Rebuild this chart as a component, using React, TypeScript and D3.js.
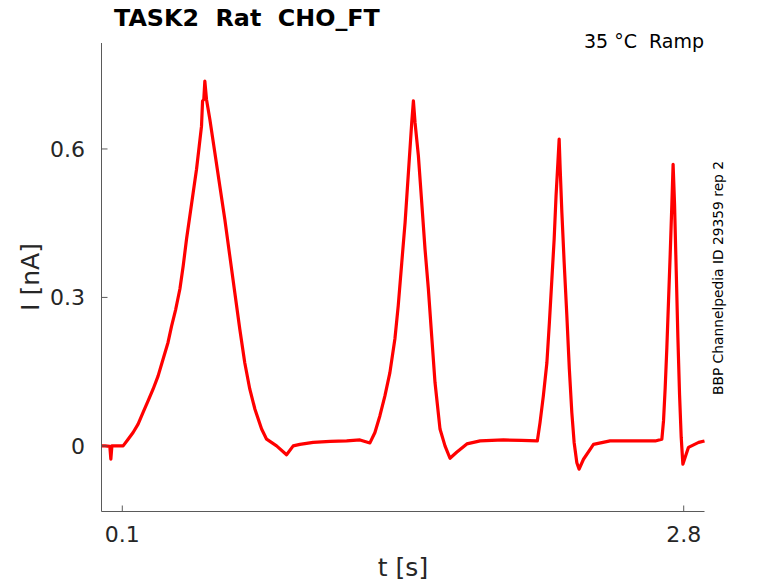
import * as d3 from "d3";

// trace (t in s, I in nA)
const timeS = [
  0.0, 0.017, 0.04, 0.045, 0.05, 0.078, 0.104, 0.128, 0.152, 0.176, 0.2, 0.224,
  0.248, 0.272, 0.296, 0.32, 0.337, 0.357, 0.377, 0.393, 0.409, 0.425, 0.441,
  0.457, 0.47, 0.481, 0.486, 0.492, 0.497, 0.505, 0.521, 0.545, 0.569, 0.593,
  0.617, 0.641, 0.665, 0.689, 0.713, 0.738, 0.77, 0.794, 0.842, 0.89, 0.922,
  0.954, 1.018, 1.1, 1.179, 1.243, 1.291,
  1.315, 1.339, 1.363, 1.387, 1.411, 1.427, 1.444, 1.46, 1.476, 1.492, 1.5,
  1.508, 1.524, 1.54, 1.556, 1.572, 1.588, 1.604, 1.628, 1.652, 1.676, 1.708,
  1.757, 1.821, 1.933, 2.02, 2.096,
  2.109, 2.125, 2.142, 2.154, 2.166, 2.177, 2.186, 2.195, 2.201, 2.206, 2.214,
  2.225, 2.238, 2.25, 2.262, 2.273, 2.286, 2.297, 2.318, 2.35, 2.366, 2.446,
  2.575, 2.663, 2.695,
  2.703, 2.711, 2.719, 2.727, 2.735, 2.743, 2.749, 2.756, 2.764, 2.772, 2.78,
  2.788, 2.796, 2.807, 2.823, 2.872, 2.9,
];
const currentNA = [
  0.0, 0.0, -0.001, -0.027, 0.0, 0.0, 0.0, 0.0135, 0.027, 0.044, 0.0675, 0.091,
  0.1145, 0.141, 0.175, 0.209, 0.242, 0.276, 0.317, 0.364, 0.418, 0.465, 0.512,
  0.559, 0.606, 0.646, 0.697, 0.7, 0.737, 0.7, 0.66, 0.593, 0.525, 0.458,
  0.384, 0.31, 0.236, 0.168, 0.115, 0.074, 0.034, 0.0135, 0.0, -0.018, 0.0,
  0.003, 0.007, 0.009, 0.01, 0.012, 0.006,
  0.027, 0.061, 0.101, 0.148, 0.216, 0.283, 0.37, 0.451, 0.552, 0.653, 0.697,
  0.653, 0.586, 0.492, 0.397, 0.317, 0.222, 0.128, 0.034, 0.0, -0.025, -0.013,
  0.004, 0.01, 0.012, 0.011, 0.01,
  0.047, 0.101, 0.168, 0.249, 0.337, 0.418, 0.505, 0.573, 0.62, 0.559, 0.472,
  0.371, 0.263, 0.155, 0.067, 0.007, -0.034, -0.047, -0.027, -0.007, 0.003, 0.01,
  0.01, 0.01, 0.0135,
  0.051, 0.118, 0.199, 0.293, 0.387, 0.488, 0.569, 0.488, 0.354, 0.219, 0.104,
  0.017, -0.037, -0.023, -0.003, 0.007, 0.01,
];
const xTicks = [0.1, 2.8];
const yTicks = [0, 0.3, 0.6];

const W = 778;
const H = 583;
const left = 101.5;
const right = 704.5;
const top = 43;
const bottom = 511.5;

const FONT = "DejaVu Sans, sans-serif";
const TXT = "#262626";
const AXIS = "#5a5a5a";

export default function App() {
  const x = d3.scaleLinear().domain([0, 2.9]).range([left, right]);
  const y = d3.scaleLinear().domain([-0.1326, 0.8141]).range([bottom, top]);

  const pts = timeS.map((t, i) => [t, currentNA[i]] as [number, number]);
  const path = d3
    .line<[number, number]>()
    .x((d) => x(d[0]))
    .y((d) => y(d[1]))(pts);

  return (
    <svg
      width={W}
      height={H}
      style={{ position: "absolute", left: 0, top: 0, background: "#fff" }}
      fontFamily={FONT}
    >
      <path d={path ?? ""} fill="none" stroke="#ff0000" strokeWidth={3.2} strokeLinejoin="round" />

      <line x1={left} x2={left} y1={top} y2={bottom} stroke={AXIS} strokeWidth={1} />
      <line x1={left} x2={right} y1={bottom} y2={bottom} stroke={AXIS} strokeWidth={1} />

      {yTicks.map((v) => (
        <g key={"y" + v}>
          <line x1={left} x2={left + 6} y1={y(v)} y2={y(v)} stroke={AXIS} />
          <text x={85} y={y(v) + 8} textAnchor="end" fontSize={22} fill={TXT}>
            {d3.format("")(v)}
          </text>
        </g>
      ))}
      {xTicks.map((v) => (
        <g key={"x" + v}>
          <line x1={x(v)} x2={x(v)} y1={bottom} y2={bottom - 6} stroke={AXIS} />
          <text x={x(v)} y={542} textAnchor="middle" fontSize={22} fill={TXT}>
            {v}
          </text>
        </g>
      ))}

      <text x={403} y={576} textAnchor="middle" fontSize={25} fill={TXT}>
        t [s]
      </text>
      <text
        transform={`translate(39,277) rotate(-90)`}
        textAnchor="middle"
        fontSize={25}
        fill={TXT}
      >
        I [nA]
      </text>

      <text x={114} y={26} fontSize={23.8} fontWeight="bold" fill="#000" style={{ whiteSpace: "pre" }}>
        {"TASK2  Rat  CHO_FT"}
      </text>
      <text x={704} y={47.5} textAnchor="end" fontSize={19} fill="#000" style={{ whiteSpace: "pre" }}>
        {"35 °C  Ramp"}
      </text>
      <text
        transform={`translate(722.5,278) rotate(-90)`}
        textAnchor="middle"
        fontSize={13.8}
        fill="#000"
      >
        BBP Channelpedia ID 29359 rep 2
      </text>
    </svg>
  );
}
